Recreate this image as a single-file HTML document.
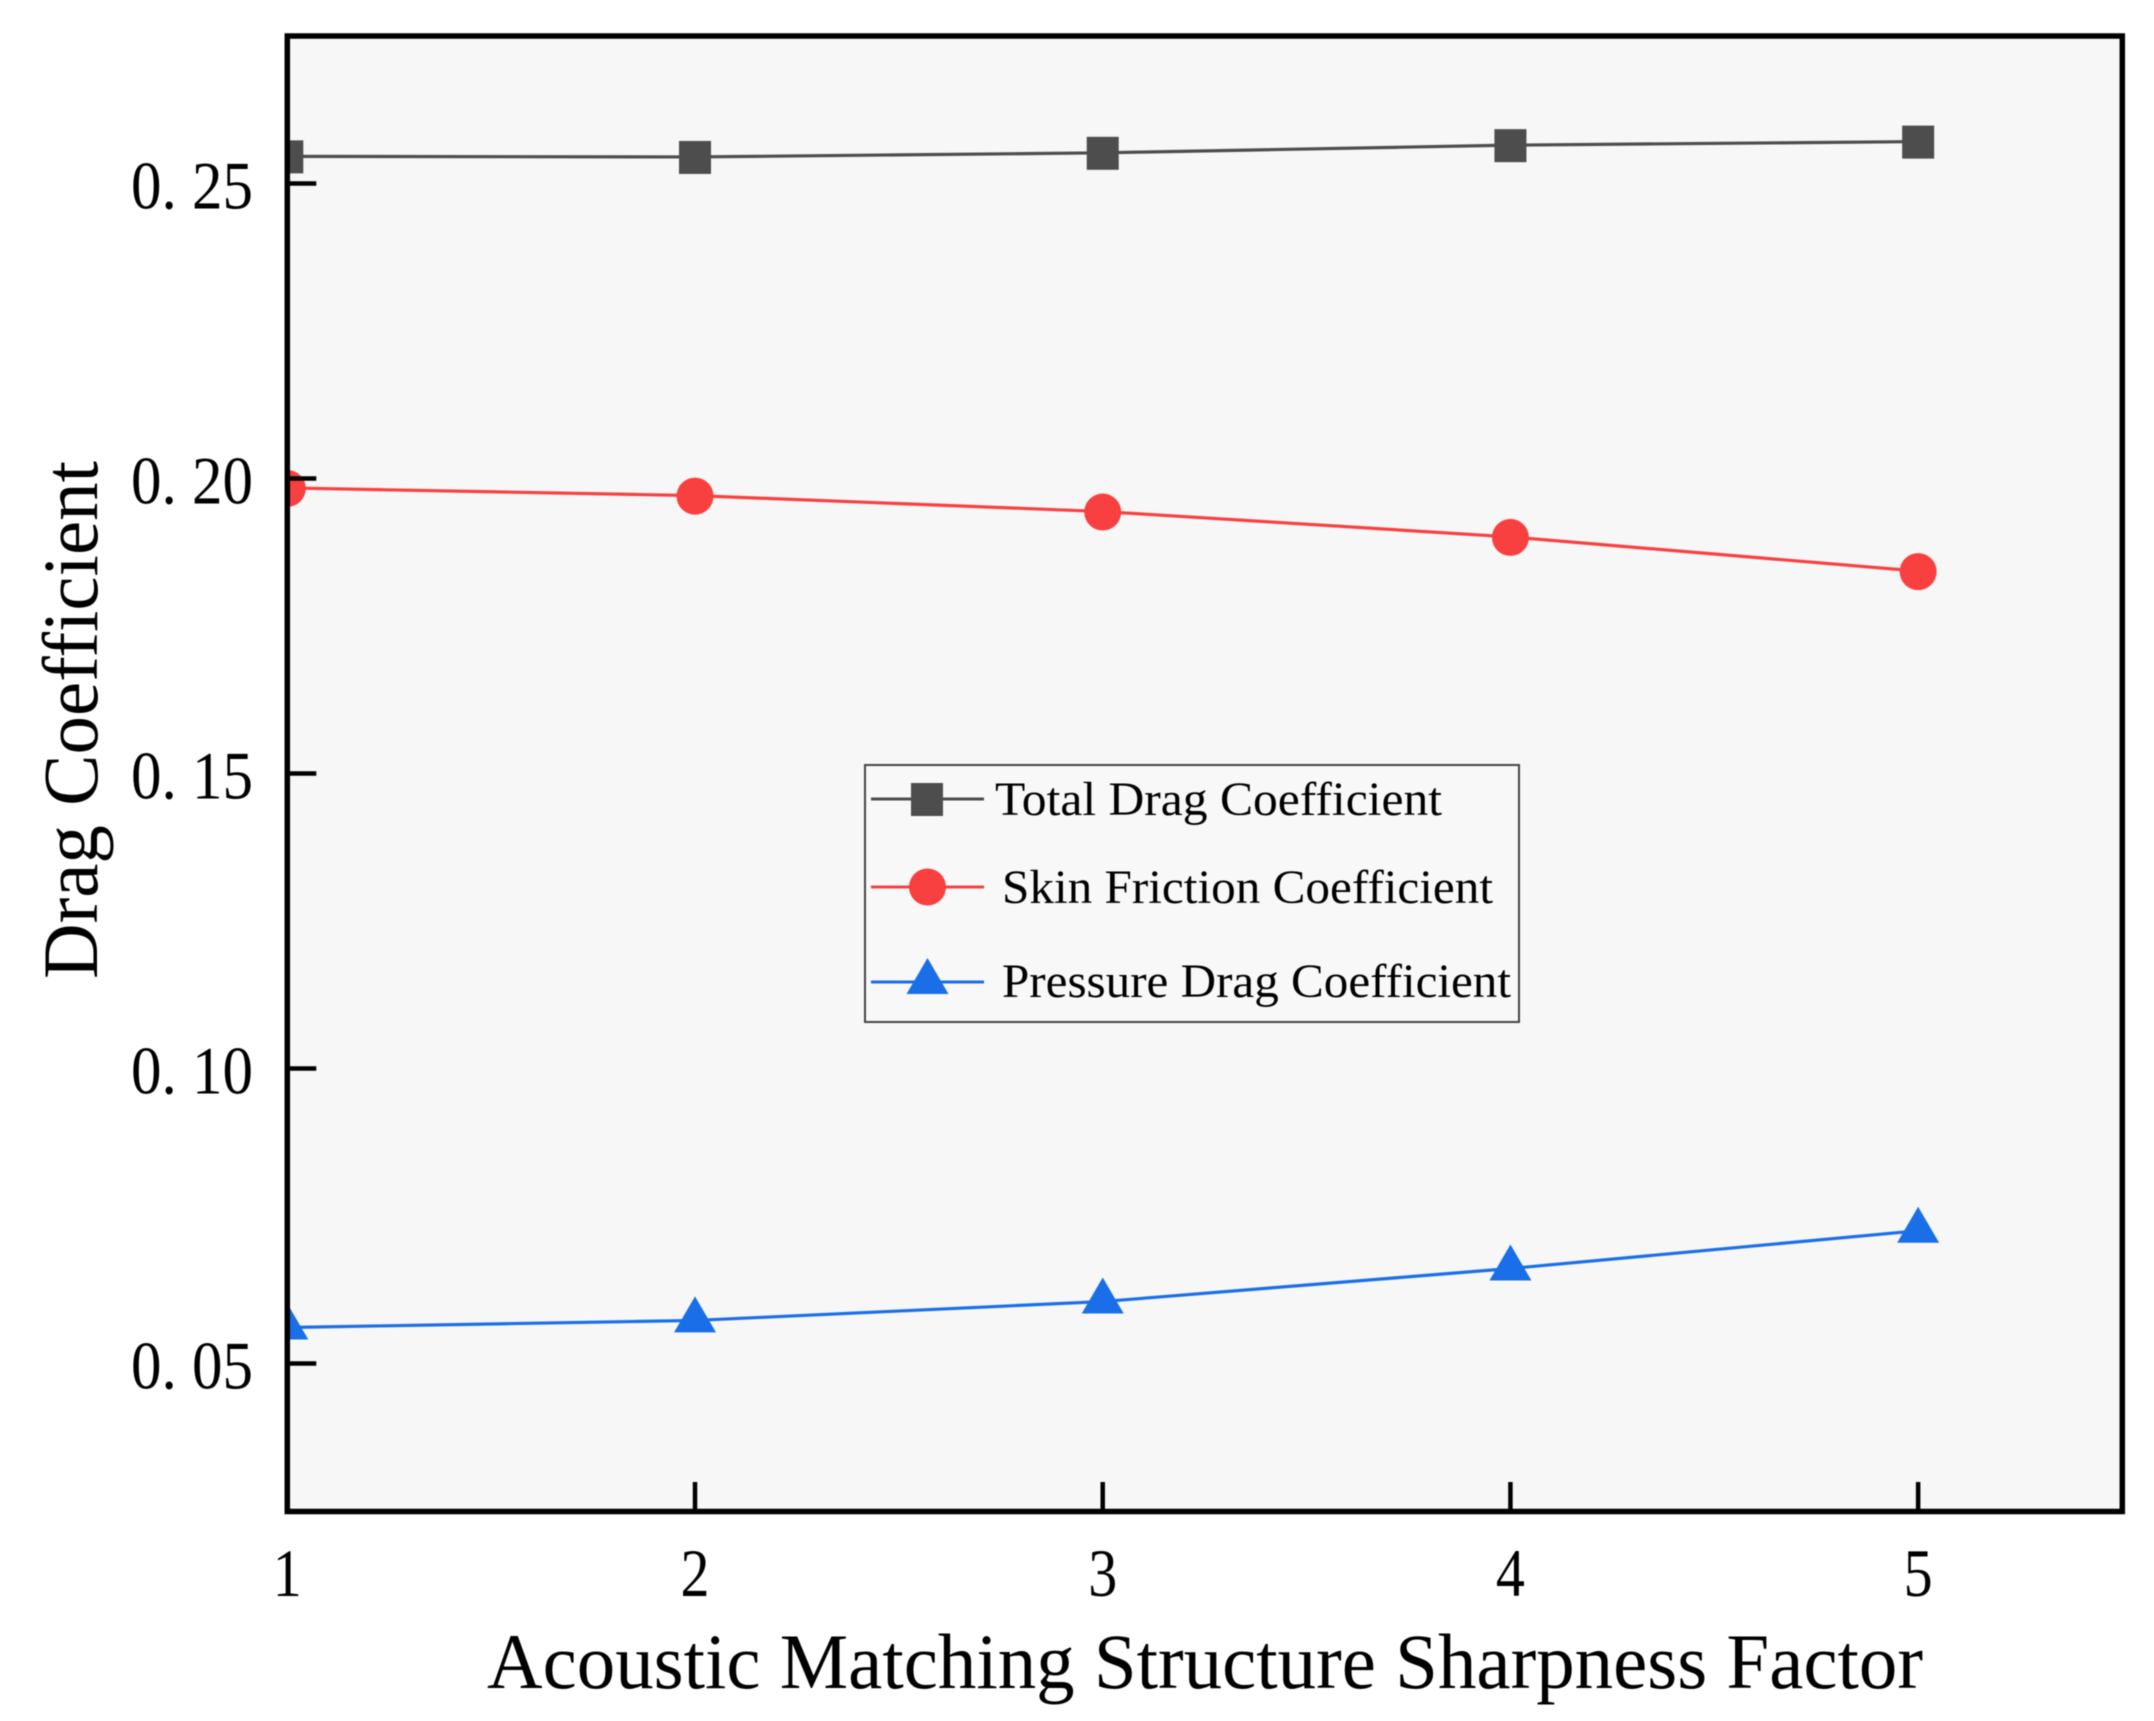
<!DOCTYPE html>
<html lang="en">
<head>
<meta charset="utf-8">
<title>Drag Coefficient vs Acoustic Matching Structure Sharpness Factor</title>
<style>
html,body{margin:0;padding:0;background:#fff;width:2154px;height:1721px;overflow:hidden}
svg{display:block;filter:blur(.6px)}
text{font-family:"Liberation Serif","Noto Serif CJK SC",serif;fill:#000}
</style>
</head>
<body>
<svg id="chart" xmlns="http://www.w3.org/2000/svg" width="2154" height="1721" viewBox="0 0 2154 1721">
  <defs><clipPath id="plot-clip"><rect x="287" y="36" width="1835" height="1475"></rect></clipPath></defs>
  <rect x="287" y="36" width="1835" height="1475" fill="#f7f7f7"></rect>
  <g id="series-layer" clip-path="url(#plot-clip)"></g>
  <g id="tick-layer"></g>
  <rect x="287.3" y="36" width="1835" height="1475.5" fill="none" stroke="#000" stroke-width="5.5"></rect>
  <g id="label-layer"></g>
  <text x="487" y="1688" font-size="78" textLength="1436" lengthAdjust="spacingAndGlyphs">Acoustic Matching Structure Sharpness Factor</text>
  <text transform="translate(97 979) rotate(-90)" font-size="78" textLength="518" lengthAdjust="spacingAndGlyphs">Drag Coefficient</text>
  <g>
    <rect x="865" y="765" width="654" height="257" fill="#f8f8f8" stroke="#444" stroke-width="2"></rect>
    <g>
      <line x1="871" x2="984" y1="799" y2="799" stroke="#4d4d4d" stroke-width="3"></line>
      <rect x="911" y="783" width="32" height="33" fill="#4d4d4d"></rect>
      <text x="995" y="815" font-size="48" textLength="447" lengthAdjust="spacingAndGlyphs">Total Drag Coefficient</text>
    </g>
    <g>
      <line x1="871" x2="984" y1="887" y2="887" stroke="#f94040" stroke-width="3"></line>
      <circle cx="927.5" cy="887" r="18.5" fill="#f94040"></circle>
      <text x="1002" y="903" font-size="48" textLength="491" lengthAdjust="spacingAndGlyphs">Skin Friction Coefficient</text>
    </g>
    <g>
      <line x1="871" x2="984" y1="982" y2="982" stroke="#1a6fe8" stroke-width="3"></line>
      <polygon points="927.5,958 948.5,994 906.5,994" fill="#1a6fe8"></polygon>
      <text x="1002" y="997" font-size="48" textLength="509" lengthAdjust="spacingAndGlyphs">Pressure Drag Coefficient</text>
    </g>
  </g>
</svg>
<script>
const categories = [1, 2, 3, 4, 5];
const totalDrag = [0.2546, 0.2545, 0.2552, 0.2565, 0.2571];
const skinFriction = [0.1984, 0.1971, 0.1944, 0.1901, 0.1843];
const pressureDrag = [0.0561, 0.0573, 0.0605, 0.0661, 0.0725];
const yTickValues = [0.05, 0.10, 0.15, 0.20, 0.25];
const yTickLabels = ["0. 05", "0. 10", "0. 15", "0. 20", "0. 25"];
const xTickLabels = ["1", "2", "3", "4", "5"];

const xDomain = [1, 5.5];
const yDomain = [0.025, 0.275];
const plotBox = {left: 287.3, right: 2122, top: 36, bottom: 1511};
const SVGNS = "http://www.w3.org/2000/svg";

function xScale(v) {
  return plotBox.left + (v - xDomain[0]) / (xDomain[1] - xDomain[0]) * (plotBox.right - plotBox.left);
}
function yScale(v) {
  return plotBox.bottom - (v - yDomain[0]) / (yDomain[1] - yDomain[0]) * (plotBox.bottom - plotBox.top);
}
function make(tag, props, parent) {
  const el = document.createElementNS(SVGNS, tag);
  Object.keys(props).forEach(function (k) { el.setAttribute(k, props[k]); });
  parent.appendChild(el);
  return el;
}

const seriesLayer = document.getElementById("series-layer");
const tickLayer = document.getElementById("tick-layer");
const labelLayer = document.getElementById("label-layer");

function drawSeries(values, color, shape, seriesName) {
  const pts = values.map(function (v, i) { return [xScale(categories[i]), yScale(v)]; });
  const line = make("polyline", {
    points: pts.map(function (p) { return p[0] + "," + p[1]; }).join(" "),
    fill: "none", stroke: color, "stroke-width": 3.2
  }, seriesLayer);
  
  
  pts.forEach(function (p) {
    let mark;
    if (shape === "square") {
      mark = make("rect", {x: p[0] - 16, y: p[1] - 16, width: 32, height: 33, fill: color}, seriesLayer);
    } else if (shape === "circle") {
      mark = make("circle", {cx: p[0], cy: p[1] + 0.5, r: 18.5, fill: color}, seriesLayer);
    } else {
      mark = make("polygon", {
        points: p[0] + "," + (p[1] - 24) + " " + (p[0] + 21) + "," + (p[1] + 12) + " " + (p[0] - 21) + "," + (p[1] + 12),
        fill: color
      }, seriesLayer);
    }
    
    
  });
}
drawSeries(totalDrag, "#4d4d4d", "square", "total-drag");
drawSeries(skinFriction, "#f94040", "circle", "skin-friction");
drawSeries(pressureDrag, "#1a6fe8", "triangle", "pressure-drag");

yTickValues.forEach(function (v, i) {
  const y = yScale(v);
  const tick = make("line", {x1: plotBox.left, x2: plotBox.left + 29, y1: y, y2: y, stroke: "#000", "stroke-width": 4.5}, tickLayer);
  
  
  const label = make("text", {x: 131, y: y + 25, "font-size": 68, textLength: 122, lengthAdjust: "spacingAndGlyphs"}, labelLayer);
  label.textContent = yTickLabels[i];
  
  
});

categories.forEach(function (c, i) {
  const x = xScale(c);
  const tick = make("line", {x1: x, x2: x, y1: plotBox.bottom, y2: plotBox.bottom - 29, stroke: "#000", "stroke-width": 4.5}, tickLayer);
  
  
  const label = make("text", {x: x - 14.5, y: 1596, "font-size": 68, textLength: 29, lengthAdjust: "spacingAndGlyphs"}, labelLayer);
  label.textContent = xTickLabels[i];
  
  
});
</script>
</body>
</html>
